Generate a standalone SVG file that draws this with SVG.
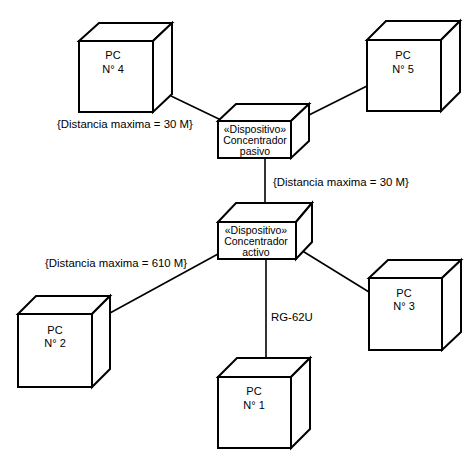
<svg xmlns="http://www.w3.org/2000/svg" width="474" height="466" viewBox="0 0 474 466">
<style>
.face{fill:#fff;stroke:#000;stroke-width:2;stroke-linejoin:miter}
.conn{stroke:#000;stroke-width:1.6;fill:none}
text{font-family:"Liberation Sans",Arial,sans-serif;font-size:11px;fill:#000}
.lbl{font-size:11.4px}
.dev{font-size:10.5px}
.c{text-anchor:middle}
</style>
<rect width="474" height="466" fill="#fff"/>
<g id="connectors">
<line class="conn" x1="171" y1="96" x2="221" y2="120"/>
<line class="conn" x1="367" y1="86" x2="309" y2="115"/>
<line class="conn" x1="265" y1="158" x2="265" y2="203"/>
<line class="conn" x1="218" y1="254" x2="110" y2="313"/>
<line class="conn" x1="296" y1="247" x2="369" y2="292"/>
<line class="conn" x1="266" y1="259" x2="266" y2="358"/>
</g>
<g id="labels">
<text class="lbl" x="57" y="128">{Distancia maxima = 30 M}</text>
<text class="lbl" x="273" y="186">{Distancia maxima = 30 M}</text>
<text class="lbl" x="45" y="267">{Distancia maxima = 610 M}</text>
<text class="lbl" x="271" y="321">RG-62U</text>
</g>
<g id="pc4">
<path class="face" d="M79 41 L99 23 L172 23 L153 41 Z"/>
<path class="face" d="M153 41 L172 23 L172 94 L153 112 Z"/>
<rect class="face" x="79" y="41" width="74" height="71"/>
<text class="c" x="113" y="59">PC</text>
<text class="c" x="113" y="73">N° 4</text>
</g>
<g id="pc5">
<path class="face" d="M367 40 L386 21 L460 21 L441 40 Z"/>
<path class="face" d="M441 40 L460 21 L460 92 L441 111 Z"/>
<rect class="face" x="367" y="40" width="74" height="71"/>
<text class="c" x="403" y="59">PC</text>
<text class="c" x="403" y="73">N° 5</text>
</g>
<g id="concentrador-pasivo">
<path class="face" d="M218 121 L236 104 L309 104 L291 121 Z"/>
<path class="face" d="M291 121 L309 104 L309 141 L291 158 Z"/>
<rect class="face" x="218" y="121" width="73" height="37"/>
<text class="c dev" x="255" y="133">«Dispositivo»</text>
<text class="c dev" x="255" y="144">Concentrador</text>
<text class="c dev" x="255" y="155">pasivo</text>
</g>
<g id="concentrador-activo">
<path class="face" d="M218 222 L236 203 L312 203 L296 222 Z"/>
<path class="face" d="M296 222 L312 203 L312 242 L296 259 Z"/>
<rect class="face" x="218" y="222" width="78" height="37"/>
<text class="c dev" x="256" y="234">«Dispositivo»</text>
<text class="c dev" x="256" y="245">Concentrador</text>
<text class="c dev" x="256" y="256">activo</text>
</g>
<g id="pc2">
<path class="face" d="M18 314 L36 296 L110 296 L92 314 Z"/>
<path class="face" d="M92 314 L110 296 L110 369 L92 387 Z"/>
<rect class="face" x="18" y="314" width="74" height="73"/>
<text class="c" x="55" y="334">PC</text>
<text class="c" x="55" y="347">N° 2</text>
</g>
<g id="pc3">
<path class="face" d="M369 278 L388 260 L461 260 L442 278 Z"/>
<path class="face" d="M442 278 L461 260 L461 332 L442 350 Z"/>
<rect class="face" x="369" y="278" width="73" height="72"/>
<text class="c" x="404" y="297">PC</text>
<text class="c" x="404" y="310">N° 3</text>
</g>
<g id="pc1">
<path class="face" d="M218 377 L237 358 L310 358 L291 377 Z"/>
<path class="face" d="M291 377 L310 358 L310 429 L291 448 Z"/>
<rect class="face" x="218" y="377" width="73" height="71"/>
<text class="c" x="254" y="395">PC</text>
<text class="c" x="254" y="409">N° 1</text>
</g>
</svg>
